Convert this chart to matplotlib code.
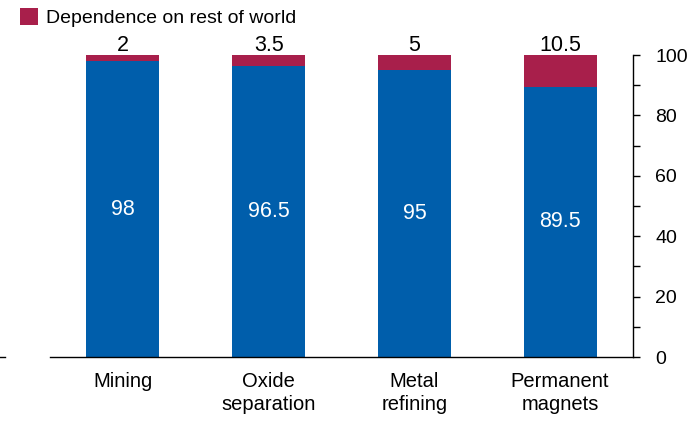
import matplotlib
matplotlib.use("Agg")
import matplotlib.pyplot as plt
from matplotlib.ticker import MultipleLocator
from matplotlib.patches import Patch
from matplotlib.lines import Line2D

categories = ["Mining", "Oxide\nseparation", "Metal\nrefining", "Permanent\nmagnets"]
china = [98, 96.5, 95, 89.5]
rest = [2, 3.5, 5, 10.5]
china_labels = ["98", "96.5", "95", "89.5"]
rest_labels = ["2", "3.5", "5", "10.5"]

blue = "#005EAB"
red = "#A81F4B"

plt.rcParams['font.family'] = ['Liberation Sans', 'DejaVu Sans']

fig = plt.figure(figsize=(6.87, 4.22), dpi=100)
ax = fig.add_axes([50/687, 1-357/422, (633-50)/687, (357-55)/422])

x = list(range(len(categories)))
ax.bar(x, china, width=0.5, color=blue, zorder=2)
ax.bar(x, rest, width=0.5, bottom=china, color=red, zorder=2)

for xi, c, cl, r, rl in zip(x, china, china_labels, rest, rest_labels):
    ax.text(xi, c/2, cl, ha='center', va='center', color='white', fontsize=15.5)
    ax.text(xi, c + r - 0.3, rl, ha='center', va='bottom', color='black', fontsize=15.5)

ax.set_xlim(-0.5, 3.5)
ax.set_ylim(0, 100)
ax.set_xticks(x)
ax.set_xticklabels(categories, fontsize=14.5, linespacing=1.25)
ax.tick_params(axis='x', length=0, pad=11)

ax.yaxis.tick_right()
ax.yaxis.set_major_locator(MultipleLocator(20))
ax.yaxis.set_minor_locator(MultipleLocator(10))
ax.tick_params(axis='y', which='major', direction='out', length=5, width=1, labelsize=14, pad=11, colors='black')
ax.tick_params(axis='y', which='minor', direction='out', length=5, width=1)

for s in ['top', 'left']:
    ax.spines[s].set_visible(False)
ax.spines['right'].set_linewidth(1)
ax.spines['bottom'].set_linewidth(1)

leg = fig.legend(handles=[Patch(facecolor=red, edgecolor='none')],
                 labels=["Dependence on rest of world"],
                 loc='upper left', bbox_to_anchor=(20/687, 1-8/422),
                 frameon=False, fontsize=14, handlelength=0.95, handleheight=0.95,
                 handletextpad=0.4, borderaxespad=0, borderpad=0)

fig.add_artist(Line2D([0/687, 5/687], [1-357/422, 1-357/422], color='black', lw=1))

fig.savefig("out.png", dpi=100)
